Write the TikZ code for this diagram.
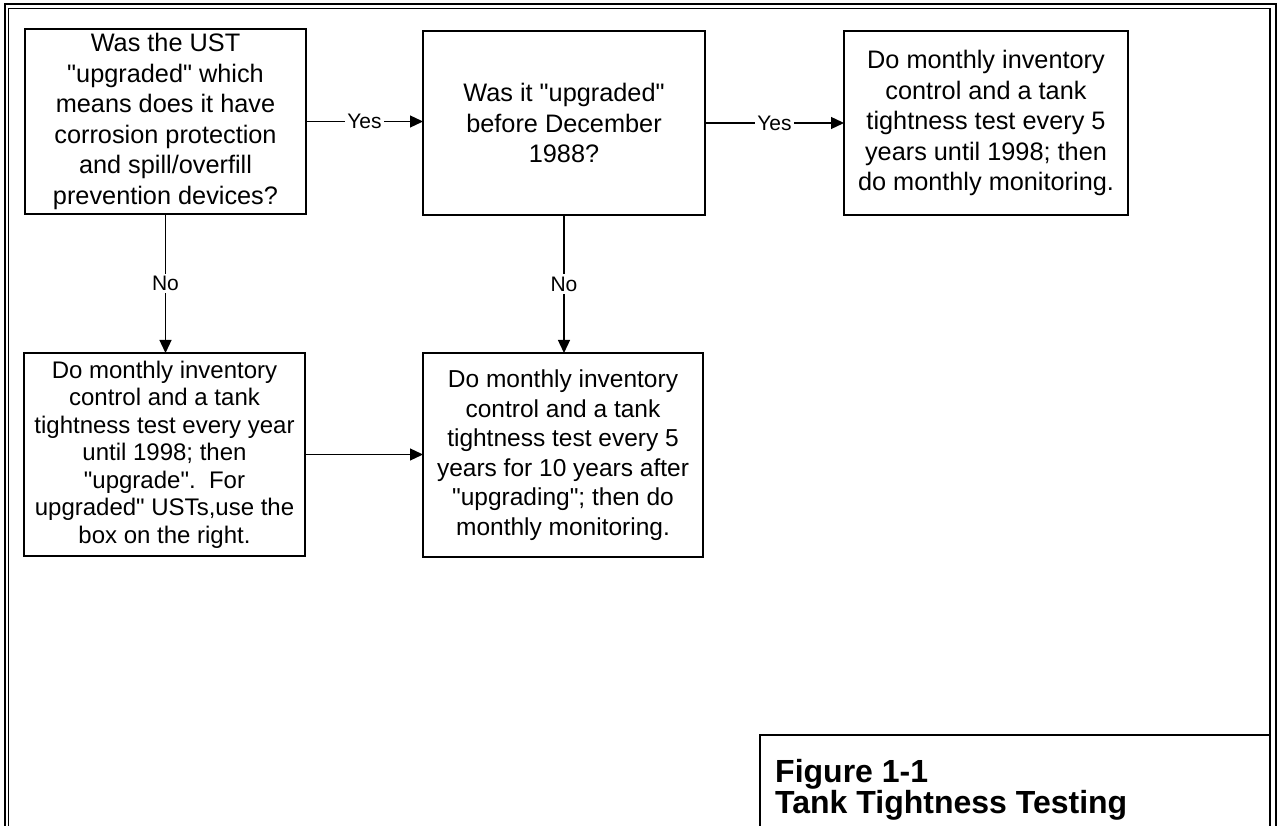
\documentclass[tikz,border=0pt]{standalone}
\usepackage{fontspec}
\setmainfont{Liberation Sans}
\newfontfamily\arialfont{Liberation Sans}
\usetikzlibrary{arrows.meta}
\begin{document}
\begin{tikzpicture}[x=1pt,y=-1pt,
  box/.style={draw, line width=1.3pt, inner sep=0pt, outer sep=0pt, anchor=north west,
    align=center, font=\arialfont\fontsize{25.3}{30.5}\selectfont},
  arr/.style={line width=1.3pt, -{Triangle[length=13pt,width=12pt]}},
  lbl/.style={fill=white, inner sep=2.5pt, font=\arialfont\fontsize{21}{22}\selectfont},
  outerframe/.style={line width=2pt},
  innerframe/.style={line width=1.5pt},
  captext/.style={anchor=base west, inner sep=0pt, font=\arialfont\bfseries\fontsize{32}{34}\selectfont}]
\useasboundingbox (0,0) rectangle (1278,826);
% frame
\draw[outerframe] (4.5,826) -- (4.5,4.5) -- (1276,4.5) -- (1276,826);
\draw[innerframe] (8.3,826) -- (8.3,8.5) -- (1270,8.5) -- (1270,826);
% boxes
\node[box, minimum width=281pt, minimum height=185pt] (b1) at (25,29)
  {Was the UST\\"upgraded" which\\means does it have\\corrosion protection\\and spill/overfill\\prevention devices?};
\node[box, minimum width=282pt, minimum height=184pt] (b2) at (423,31)
  {Was it "upgraded"\\before December\\1988?};
\node[box, minimum width=284pt, minimum height=184pt] (b3) at (844,31)
  {Do monthly inventory\\control and a tank\\tightness test every 5\\years until 1998; then\\do monthly monitoring.};
\node[box, minimum width=281pt, minimum height=203pt, font=\arialfont\fontsize{24}{27.5}\selectfont] (bl) at (24,353)
  {Do monthly inventory\\control and a tank\\tightness test every year\\until 1998; then\\"upgrade".\ \ For\\upgraded" USTs,use the\\box on the right.};
\node[box, minimum width=280pt, minimum height=204pt, font=\arialfont\fontsize{24.5}{29.5}\selectfont] (bc) at (423,353)
  {Do monthly inventory\\control and a tank\\tightness test every 5\\years for 10 years after\\"upgrading"; then do\\monthly monitoring.};
% connectors
\draw[arr] (b1.east) -- (b1.east -| b2.west) node[midway, lbl] {Yes};
\draw[arr] (b2.east) -- (b2.east -| b3.west) node[midway, lbl] {Yes};
\draw[arr] (b1.south) -- (b1.south |- bl.north) node[midway, lbl] {No};
\draw[arr] (b2.south) -- (b2.south |- bc.north) node[midway, lbl] {No};
\draw[arr] (bl.east) -- (bl.east -| bc.west);
% caption
\draw[outerframe] (760,826) -- (760,735) -- (1270,735);
\node[captext] (cap1) at (775,782) {Figure 1-1};
\node[captext] (cap2) at (775,813) {Tank Tightness Testing};
\end{tikzpicture}
\end{document}
